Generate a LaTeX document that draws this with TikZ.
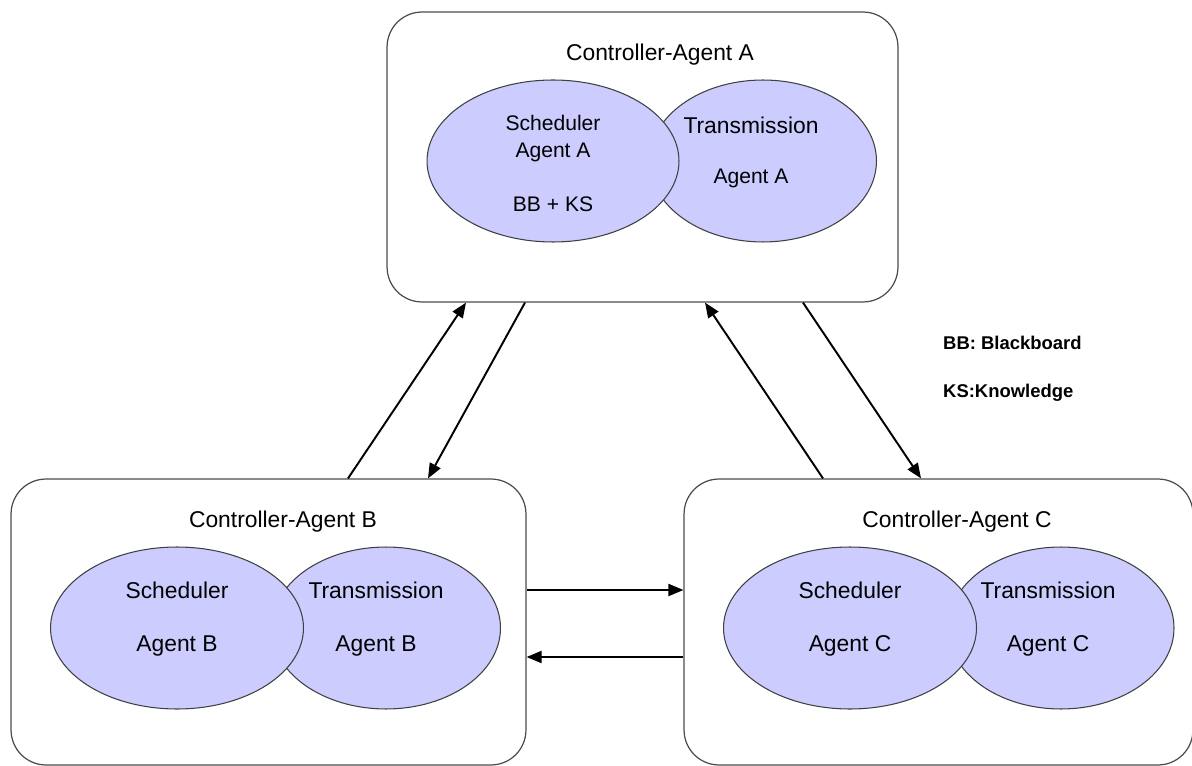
\documentclass[tikz,border=0pt]{standalone}
\usepackage{fontspec}
\setmainfont{Liberation Sans}
\usetikzlibrary{arrows.meta,shapes.geometric}
\definecolor{lavender}{RGB}{204,204,255}
\begin{document}
\begin{tikzpicture}[x=0.02cm,y=-0.02cm,
    ctrl/.style={draw=black!70,line width=0.7pt,rounded corners=0.7cm,minimum height=5.72cm},
    agent/.style={ellipse,draw=black!75,line width=0.6pt,fill=lavender,minimum height=3.24cm},
    lbl/.style={font=\fontsize{13}{15}\selectfont},
    small/.style={font=\fontsize{12}{14}\selectfont},
    legend/.style={anchor=west,font=\bfseries\fontsize{10.5}{12}\selectfont},
    link/.style={-{Triangle[length=3mm,width=2.4mm]},line width=1.1pt}]
    \useasboundingbox (0,0) rectangle (1192,766);
    % controller boxes
    \node[ctrl,minimum width=10.22cm,minimum height=5.8cm] (ctrlA) at (642.5,157) {};
    \node[ctrl,minimum width=10.3cm] (ctrlB) at (268.5,622) {};
    \node[ctrl,minimum width=10.18cm] (ctrlC) at (938.5,622) {};
    \node[lbl] (titleA) at (660,55) {Controller-Agent A};
    \node[lbl] (titleB) at (283,522) {Controller-Agent B};
    \node[lbl] (titleC) at (957,522) {Controller-Agent C};
    % agent A
    \node[agent,minimum width=4.54cm] (transA) at (763,161) {};
    \node[agent,minimum width=5.04cm] (schedA) at (553,161) {};
    \node[small] at (553,123) {Scheduler};
    \node[small] at (553,152) {Agent A};
    \node[small] at (553,204) {BB + KS};
    \node[lbl] at (751,125) {Transmission};
    \node[small] at (751,178) {Agent A};
    % agent B
    \node[agent,minimum width=4.58cm] (transB) at (386,628) {};
    \node[agent,minimum width=5.06cm] (schedB) at (177,628) {};
    \node[lbl] at (177,590) {Scheduler};
    \node[lbl] at (177,646) {Agent B};
    \node[lbl] at (376,590) {Transmission};
    \node[lbl] at (376,646) {Agent B};
    % agent C
    \node[agent,minimum width=4.52cm] (transC) at (1061,628) {};
    \node[agent,minimum width=5.06cm] (schedC) at (850,628) {};
    \node[lbl] at (850,590) {Scheduler};
    \node[lbl] at (850,646) {Agent C};
    \node[lbl] at (1048,590) {Transmission};
    \node[lbl] at (1048,646) {Agent C};
    % legend
    \node[legend] (bb) at (937,343) {BB: Blackboard};
    \node[legend] (ks) at (937,393) {KS:Knowledge};
    % links
    \draw[link] (ctrlB.north -| 348,0) -- (ctrlA.south -| 466,0);
    \draw[link] (ctrlA.south -| 525,0) -- (ctrlB.north -| 428,0);
    \draw[link] (ctrlC.north -| 823,0) -- (ctrlA.south -| 705,0);
    \draw[link] (ctrlA.south -| 803,0) -- (ctrlC.north -| 921,0);
    \draw[link] (ctrlB.east |- 0,590) -- (ctrlC.west |- 0,590);
    \draw[link] (ctrlC.west |- 0,657) -- (ctrlB.east |- 0,657);
\end{tikzpicture}
\end{document}
